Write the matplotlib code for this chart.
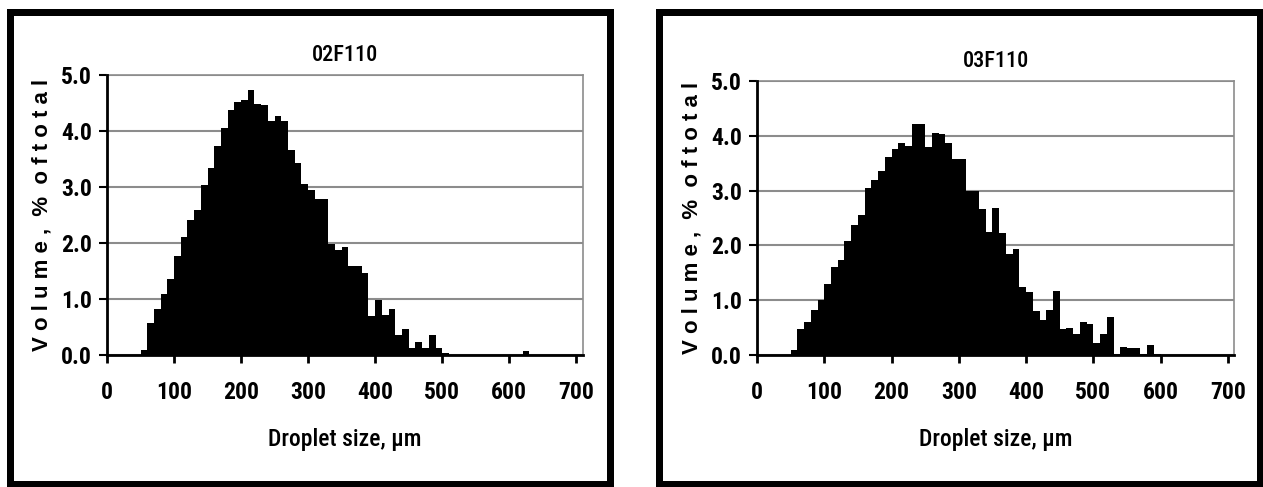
from matplotlib import pyplot as plt
from matplotlib.patches import Rectangle
import numpy as np

# bin left edges (um) and volume % per 10 um bin
bins_02 = list(range(50, 640, 10))
vol_02 = [0.09, 0.57, 0.82, 1.09, 1.36, 1.77, 2.11, 2.41, 2.59, 3.04,
          3.34, 3.73, 4.06, 4.38, 4.51, 4.56, 4.73, 4.49, 4.46, 4.18,
          4.26, 4.18, 3.66, 3.43, 3.05, 2.95, 2.78, 2.78, 1.99, 1.87,
          1.92, 1.59, 1.59, 1.47, 0.69, 0.99, 0.71, 0.83, 0.36, 0.46,
          0.13, 0.24, 0.12, 0.36, 0.13, 0.03, 0.0, 0.0, 0.0, 0.0,
          0.0, 0.0, 0.0, 0.0, 0.0, 0.0, 0.0, 0.08, 0.0]

bins_03 = list(range(50, 600, 10))
vol_03 = [0.10, 0.47, 0.61, 0.83, 1.00, 1.30, 1.61, 1.73, 2.08, 2.38,
          2.56, 3.05, 3.19, 3.36, 3.61, 3.75, 3.86, 3.81, 4.22, 4.22,
          3.79, 4.06, 4.03, 3.86, 3.58, 3.58, 3.00, 3.00, 2.67, 2.25,
          2.68, 2.22, 1.85, 1.93, 1.25, 1.15, 0.81, 0.64, 0.83, 1.17,
          0.48, 0.50, 0.38, 0.61, 0.56, 0.22, 0.38, 0.70, 0.02, 0.15,
          0.13, 0.13, 0.02, 0.18, 0.02]

xticks = [0, 100, 200, 300, 400, 500, 600, 700]
yticks = [0.0, 1.0, 2.0, 3.0, 4.0, 5.0]

narrow = ['Liberation Sans Narrow', 'Roboto Condensed', 'PT Sans Narrow', 'Liberation Sans', 'DejaVu Sans']
wide = ['Liberation Sans', 'DejaVu Sans']

W, H = 1263, 487
fig = plt.figure(figsize=(W / 100, H / 100), dpi=100)


def panel(rect, bins, vals, title, xmax):
    ax = fig.add_axes(rect)
    ax.bar(bins, vals, width=10, align='edge', color='black', edgecolor='none', zorder=2)
    ax.set_xlim(0, xmax)
    ax.set_ylim(0, 5)
    ax.set_xticks(xticks)
    ax.set_yticks(yticks)
    ax.set_xticklabels([str(t) for t in xticks], family=narrow, fontweight='bold', fontsize=17)
    ax.set_yticklabels([f'{t:.1f}' for t in yticks], family=narrow, fontweight='bold', fontsize=17)
    ax.tick_params(axis='x', direction='out', length=6, width=2, pad=13)
    ax.tick_params(axis='y', direction='out', length=6, width=1.5, pad=5)
    ax.yaxis.grid(True, color='#8c8c8c', lw=1.5, zorder=1)
    ax.set_axisbelow(True)
    for s in ['left', 'bottom']:
        ax.spines[s].set_linewidth(2)
        ax.spines[s].set_zorder(3)
    for s in ['top', 'right']:
        ax.spines[s].set_color('#8c8c8c')
        ax.spines[s].set_linewidth(1.2)
    ax.set_title(title, family=narrow, fontweight='medium', fontsize=16, pad=10)
    ax.set_xlabel('Droplet size, µm', family=narrow, fontweight='medium', fontsize=17, labelpad=17)
    ax.set_ylabel('V o l u m e ,  %  o f t o t a l', family=wide, fontweight='bold',
                  fontsize=16, labelpad=6)
    return ax


panel([107 / W, 1 - 355 / H, 476 / W, 280 / H], bins_02, vol_02, '02F110', 710)
panel([757 / W, 1 - 355 / H, 477 / W, 274 / H], bins_03, vol_03, '03F110', 709)

# thick black frames round each chart
lw = 7 * 72 / 100
fig.patches.append(Rectangle((9.5 / W, 1 - 484 / H), 600 / W, 472 / H, transform=fig.transFigure,
                             fill=False, edgecolor='black', lw=lw))
fig.patches.append(Rectangle((658.5 / W, 1 - 484 / H), 601 / W, 472 / H, transform=fig.transFigure,
                             fill=False, edgecolor='black', lw=lw))

fig.savefig('out.png', dpi=100, facecolor='white')
